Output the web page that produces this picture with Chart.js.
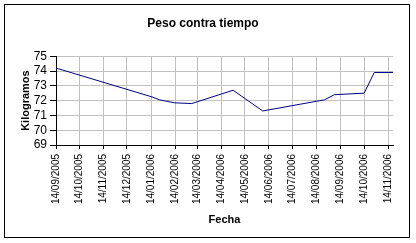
<!DOCTYPE html>
<html>
<head>
<meta charset="utf-8">
<script src="https://cdn.jsdelivr.net/npm/chart.js@4/dist/chart.umd.min.js"></script>
<style>
  body { margin: 0; background: #fff; }
  canvas { display: block; }
</style>
</head>
<body>
<canvas id="myChart" width="416" height="243"></canvas>
<script>
// fechas y pesos
const fechas = ['14/09/2005', '15/01/2006', '25/01/2006', '13/02/2006', '07/03/2006', '29/04/2006',
  '06/06/2006', '24/08/2006', '06/09/2006', '14/10/2006', '27/10/2006', '20/11/2006'];
const pesos = [74.2, 72.25, 72.05, 71.85, 71.8, 72.7, 71.3, 72.05, 72.4, 72.5, 73.9, 73.9];

const tickFechas = ['14/09/2005', '14/10/2005', '14/11/2005', '14/12/2005', '14/01/2006', '14/02/2006',
  '14/03/2006', '14/04/2006', '14/05/2006', '14/06/2006', '14/07/2006', '14/08/2006',
  '14/09/2006', '14/10/2006', '14/11/2006'];
const yTicks = [69, 70, 71, 72, 73, 74, 75];

const FONT = "'Liberation Sans', Arial, sans-serif";

function toDay(s) {
  const p = s.split('/').map(Number);
  return Date.UTC(p[2], p[1] - 1, p[0]) / 86400000;
}
function fromDay(d) {
  const dt = new Date(d * 86400000);
  const dd = String(dt.getUTCDate()).padStart(2, '0');
  const mm = String(dt.getUTCMonth() + 1).padStart(2, '0');
  return dd + '/' + mm + '/' + dt.getUTCFullYear();
}

const puntos = fechas.map((f, i) => ({ x: toDay(f), y: pesos[i] }));

const marco = {
  id: 'marco',
  afterDraw(chart) {
    const ctx = chart.ctx;
    ctx.save();
    ctx.strokeStyle = '#000';
    ctx.lineWidth = 1;
    ctx.strokeRect(4.5, 4.5, 405, 233);
    ctx.restore();
  }
};

const canvas = document.getElementById('myChart');
new Chart(canvas, {
  type: 'line',
  data: {
    datasets: [{
      data: puntos,
      borderColor: '#000080',
      borderWidth: 1,
      pointRadius: 0,
      tension: 0,
      fill: false
    }]
  },
  options: {
    responsive: false,
    animation: false,
    devicePixelRatio: 1,
    layout: { padding: { left: 13, right: 23, top: 6, bottom: 12 } },
    plugins: {
      legend: { display: false },
      tooltip: { enabled: false },
      title: {
        display: true,
        text: 'Peso contra tiempo',
        color: '#000',
        font: { family: FONT, size: 12, weight: 'bold' },
        padding: { top: 10, bottom: 25.8 }
      }
    },
    scales: {
      x: {
        type: 'linear',
        min: toDay(fechas[0]),
        max: toDay(fechas[fechas.length - 1]),
        afterBuildTicks(scale) {
          scale.ticks = tickFechas.map(f => ({ value: toDay(f) }));
        },
        afterFit(scale) { scale.height = 86; },
        ticks: {
          autoSkip: false,
          minRotation: 90,
          maxRotation: 90,
          padding: 5,
          color: '#000',
          font: { family: FONT, size: 10 },
          callback: v => fromDay(v)
        },
        grid: { color: '#c0c0c0', tickColor: '#000', tickLength: 4, lineWidth: 1 },
        border: { color: '#000', width: 1 },
        title: {
          display: true,
          text: 'Fecha',
          color: '#000',
          font: { family: FONT, size: 11, weight: 'bold' },
          padding: { top: 4, bottom: 4 }
        }
      },
      y: {
        min: yTicks[0],
        max: yTicks[yTicks.length - 1],
        afterBuildTicks(scale) {
          scale.ticks = yTicks.map(v => ({ value: v }));
        },
        afterFit(scale) { scale.width = 43; },
        ticks: {
          autoSkip: false,
          color: '#000',
          padding: 3,
          font: { family: FONT, size: 12 }
        },
        grid: { color: '#c0c0c0', tickColor: '#000', tickLength: 6, lineWidth: 1 },
        border: { color: '#000', width: 1 },
        title: {
          display: true,
          text: 'Kilogramos',
          color: '#000',
          font: { family: FONT, size: 11, weight: 'bold' },
          padding: { top: 6, bottom: 4 }
        }
      }
    }
  },
  plugins: [marco]
});
</script>
</body>
</html>
